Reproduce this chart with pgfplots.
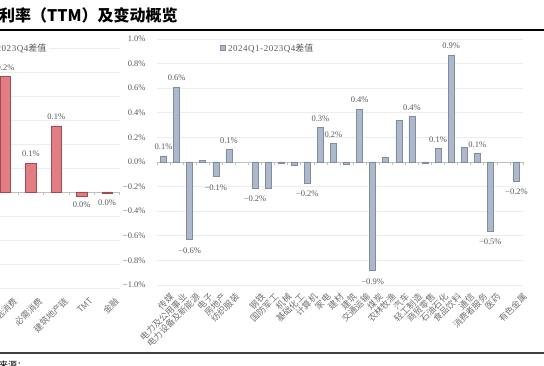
\documentclass[border=0pt]{standalone}
\usepackage{pgfplots}
\pgfplotsset{compat=1.18}
\usepackage{fontspec}
\setmainfont{Liberation Serif}
\newfontfamily\cjk{Noto Sans CJK SC}
\newfontfamily\spaced[LetterSpace=6]{Liberation Serif}
\definecolor{barblue}{HTML}{ADB9CA}
\definecolor{barblueedge}{HTML}{7F8DA3}
\definecolor{barred}{HTML}{E27D84}
\definecolor{barrededge}{HTML}{A24A50}
\definecolor{gridc}{HTML}{EDEDED}
\definecolor{txt}{HTML}{595959}
\definecolor{axisc}{HTML}{BFBFBF}

% right chart: 2024Q1-2023Q4 difference by industry (%)
\pgfplotstableread{
x v
0 0.05
1 0.61
2 -0.63
3 0.01
4 -0.12
5 0.10
7 -0.21
8 -0.21
9 -0.01
10 -0.03
11 -0.17
12 0.28
13 0.15
14 -0.015
15 0.43
16 -0.88
17 0.035
18 0.34
19 0.37
20 -0.012
21 0.11
22 0.87
23 0.12
24 0.07
25 -0.56
27 -0.155
}\rightdata

% left chart: by sector group (%)
\pgfplotstableread{
x v
0 0.240
1 0.060
2 0.1375
3 -0.008
4 -0.003
}\leftdata

\begin{document}
\begin{tikzpicture}

% ---------------- left chart ----------------
\begin{axis}[
  at={(-58pt,78pt)}, anchor=south west,
  scale only axis, width=177.8pt, height=240pt,
  xmin=-2.5, xmax=4.5, ymin=-0.2, ymax=0.3,
  axis line style={draw=none}, tick style={draw=none},
  ytick={-0.2,-0.15,-0.1,-0.05,0,0.05,0.1,0.15,0.2,0.25,0.3},
  yticklabels={},
  ymajorgrids, grid style={draw=gridc, line width=0.8pt},
  xtick={0,1,2,3,4},
  xticklabels={可选消费,必需消费,建筑地产链,TMT,金融},
  xticklabel style={rotate=45, anchor=north east, font=\cjk\fontsize{8.8}{9}\selectfont, text=txt!85, inner sep=1pt, yshift=-10pt},
  clip=false,
  legend style={at={(rel axis cs:0.605,1.0)}, anchor=east, draw=none, fill=white, font=\spaced\fontsize{9}{10}\selectfont, text=txt, inner sep=1pt},
  legend image code/.code={\draw[fill=barred, draw=barrededge] (0pt,-2.5pt) rectangle (5pt,2.5pt);},
]
\addplot[draw=axisc, line width=0.8pt, forget plot] coordinates {(-2.5,0) (4.5,0)};
\addplot[only marks, mark=|, mark size=1.5pt, mark options={draw=axisc, line width=0.6pt}, forget plot]
  coordinates {(-2.5,-0.003) (-1.5,-0.003) (-0.5,-0.003) (0.5,-0.003) (1.5,-0.003) (2.5,-0.003) (3.5,-0.003) (4.5,-0.003)};
\addplot[ybar, bar width=10.5pt, fill=barred, draw=barrededge, line width=0.6pt] table[x=x, y=v] {\leftdata};
\addlegendentry{2024Q1-2023Q4{\cjk 差值}}
\addplot[draw=none, forget plot, nodes near coords, point meta=explicit symbolic,
  every node near coord/.append style={anchor=south, font=\fontsize{8.5}{9}\selectfont, text=txt, inner sep=1pt, yshift=5pt}]
  coordinates {(0,0.240)[0.2\%] (1,0.060)[0.1\%] (2,0.1375)[0.1\%]};
\addplot[draw=none, forget plot, nodes near coords, point meta=explicit symbolic,
  every node near coord/.append style={anchor=north, font=\fontsize{8.5}{9}\selectfont, text=txt, inner sep=1pt, yshift=-5pt}]
  coordinates {(3,-0.008)[0.0\%] (4,-0.003)[0.0\%]};
\end{axis}

% ---------------- right chart ----------------
\begin{axis}[
  at={(157pt,81pt)}, anchor=south west,
  scale only axis, width=366pt, height=246pt,
  xmin=-0.5, xmax=27.5, ymin=-1, ymax=1,
  axis line style={draw=none}, tick style={draw=none},
  ytick={-1,-0.8,-0.6,-0.4,-0.2,0,0.2,0.4,0.6,0.8,1},
  yticklabels={−1.0\%,−0.8\%,−0.6\%,−0.4\%,−0.2\%,0.0\%,0.2\%,0.4\%,0.6\%,0.8\%,1.0\%},
  ymajorgrids, grid style={draw=gridc, line width=0.8pt},
  xtick={0,...,27},
  xticklabels={传媒,电力及公用事业,电力设备及新能源,电子,房地产,纺织服装,,钢铁,国防军工,机械,基础化工,计算机,家电,建材,建筑,交通运输,煤炭,农林牧渔,汽车,轻工制造,商贸零售,石油石化,食品饮料,通信,消费者服务,医药,,有色金属},
  xticklabel style={rotate=45, anchor=north east, font=\cjk\fontsize{8.8}{9}\selectfont, text=txt!85, inner sep=1pt, yshift=-8pt},
  yticklabel style={font=\fontsize{8.5}{9}\selectfont, text=txt, xshift=-8pt},
  clip=false,
  legend style={at={(rel axis cs:0.17,0.995)}, anchor=north west, draw=none, fill=none, font=\spaced\fontsize{9}{10}\selectfont, text=txt, inner sep=1pt},
  legend image code/.code={\draw[fill=barblue, draw=barblueedge] (0pt,-2.5pt) rectangle (5pt,2.5pt);},
]
\addplot[draw=axisc, line width=0.8pt, forget plot] coordinates {(-0.5,0) (27.5,0)};
\addplot[only marks, mark=|, mark size=1.5pt, mark options={draw=axisc, line width=0.6pt}, forget plot]
  coordinates {(-0.5,-0.012) (0.5,-0.012) (1.5,-0.012) (2.5,-0.012) (3.5,-0.012) (4.5,-0.012) (5.5,-0.012) (6.5,-0.012) (7.5,-0.012) (8.5,-0.012) (9.5,-0.012) (10.5,-0.012) (11.5,-0.012) (12.5,-0.012) (13.5,-0.012) (14.5,-0.012) (15.5,-0.012) (16.5,-0.012) (17.5,-0.012) (18.5,-0.012) (19.5,-0.012) (20.5,-0.012) (21.5,-0.012) (22.5,-0.012) (23.5,-0.012) (24.5,-0.012) (25.5,-0.012) (26.5,-0.012) (27.5,-0.012)};
\addplot[ybar, bar width=6pt, fill=barblue, draw=barblueedge, line width=0.6pt] table[x=x, y=v] {\rightdata};
\addlegendentry{2024Q1-2023Q4{\cjk 差值}}
\addplot[draw=none, forget plot, nodes near coords, point meta=explicit symbolic,
  every node near coord/.append style={anchor=south, font=\fontsize{8.5}{9}\selectfont, text=txt, inner sep=1pt, yshift=5pt}]
  coordinates {(0,0.05)[0.1\%] (1,0.61)[0.6\%] (5,0.10)[0.1\%] (12,0.28)[0.3\%] (13,0.15)[0.2\%] (15,0.43)[0.4\%] (19,0.37)[0.4\%] (21,0.11)[0.1\%] (22,0.87)[0.9\%] (24,0.07)[0.1\%]};
\addplot[draw=none, forget plot, nodes near coords, point meta=explicit symbolic,
  every node near coord/.append style={anchor=north, font=\fontsize{8.5}{9}\selectfont, text=txt, inner sep=1pt, yshift=-7pt}]
  coordinates {(2,-0.63)[−0.6\%] (4,-0.12)[−0.1\%] (7,-0.21)[−0.2\%] (11,-0.17)[−0.2\%] (16,-0.88)[−0.9\%] (25,-0.56)[−0.5\%] (27,-0.155)[−0.2\%]};
\end{axis}

% ---------------- frame: title, rules, source ----------------
\node[anchor=base west, inner sep=0pt, font=\cjk\bfseries\fontsize{16}{17}\selectfont] at (-1pt,344pt) {利率（TTM）及变动概览};
\draw[line width=1.5pt, black] (0pt,336pt) -- (544pt,336pt);
\draw[line width=1.2pt, black!75] (0pt,13pt) -- (544pt,13pt);
\node[anchor=base west, inner sep=0pt, font=\cjk\fontsize{9}{10}\selectfont] at (-1pt,-3pt) {来源：};

\pgfresetboundingbox
\path[use as bounding box] (0pt,0pt) rectangle (544pt,366pt);
\end{tikzpicture}
\end{document}
